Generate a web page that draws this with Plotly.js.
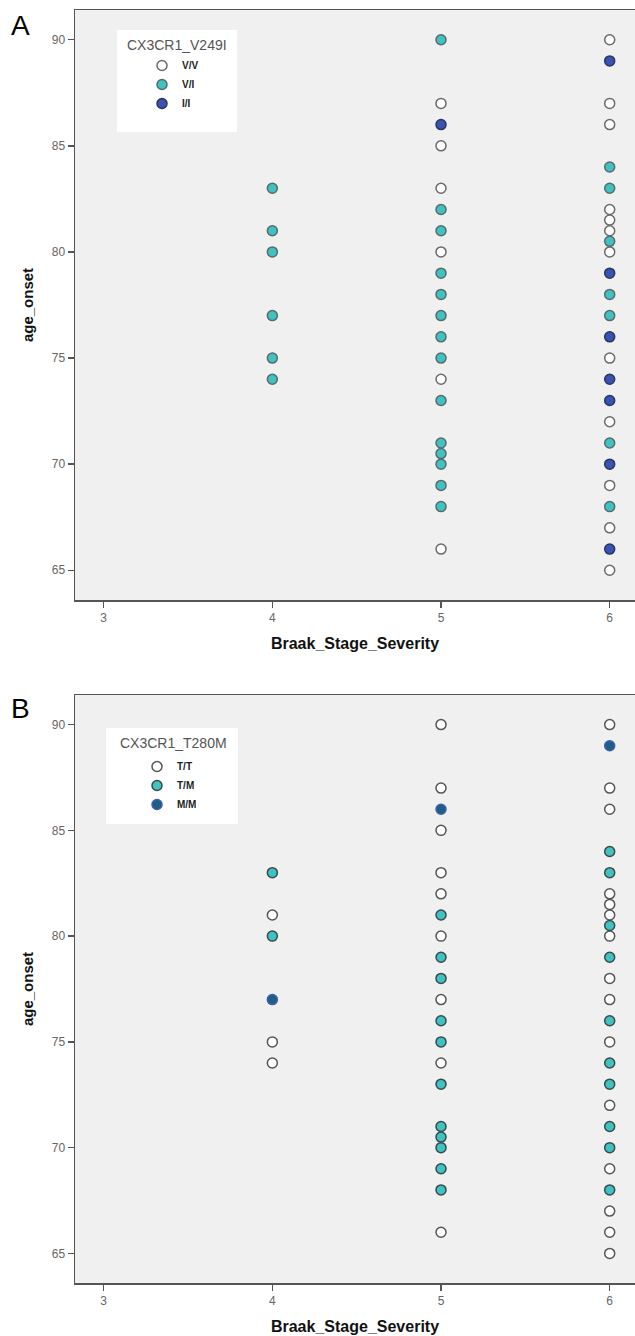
<!DOCTYPE html>
<html>
<head>
<meta charset="utf-8">
<script src="https://cdn.plot.ly/plotly-3.0.1.min.js"></script>
<style>html,body{margin:0;padding:0;background:#fff;}#chart{width:635px;height:1336px;}</style>
</head>
<body>
<div id="chart"></div>
<script>
// ---------- DATA ----------
// Panel A: CX3CR1_V249I
const aVV_stage = [5,5,5,5,5,5, 6,6,6,6,6,6,6,6,6,6,6,6];
const aVV_age   = [87,85,83,80,74,66, 90,87,86,82,81.5,81,80,75,72,69,67,65];
const aVI_stage = [4,4,4,4,4,4, 5,5,5,5,5,5,5,5,5,5,5,5,5,5, 6,6,6,6,6,6,6];
const aVI_age   = [83,81,80,77,75,74, 90,82,81,79,78,77,76,75,73,71,70.5,70,69,68, 84,83,80.5,78,77,71,68];
const aII_stage = [5, 6,6,6,6,6,6,6];
const aII_age   = [86, 89,79,76,74,73,70,66];

// Panel B: CX3CR1_T280M
const bTT_stage = [4,4,4, 5,5,5,5,5,5,5,5,5, 6,6,6,6,6,6,6,6,6,6,6,6,6,6,6];
const bTT_age   = [81,75,74, 90,87,85,83,82,80,77,74,66, 90,87,86,82,81.5,81,80,78,77,75,72,69,67,66,65];
const bTM_stage = [4,4, 5,5,5,5,5,5,5,5,5,5,5, 6,6,6,6,6,6,6,6,6,6];
const bTM_age   = [83,80, 81,79,78,76,75,73,71,70.5,70,69,68, 84,83,80.5,79,76,74,73,71,70,68];
const bMM_stage = [4,5,6];
const bMM_age   = [77,86,89];

const xTicks = [3,4,5,6];
const yTicks = [65,70,75,80,85,90];
const labelsA = ['V/V','V/I','I/I'];
const labelsB = ['T/T','T/M','M/M'];
const legendTitleA = 'CX3CR1_V249I';
const legendTitleB = 'CX3CR1_T280M';

// ---------- STYLE ----------
const W = 635, H = 1336;
const M = {l:75, r:0, t:10, b:53};
const plotW = W - M.l - M.r, plotH = H - M.t - M.b;
const py = p => (H - M.b - p) / plotH;   // pixel y -> paper y
const px = p => (p - M.l) / plotW;       // pixel x -> paper x

const mk = (fill, line) => ({size: 10, color: fill, line: {color: line, width: 1.5}});

const traces = [
  {x: aVV_stage, y: aVV_age, name: labelsA[0], marker: mk('#ffffff', '#6a6a6a')},
  {x: aVI_stage, y: aVI_age, name: labelsA[1], marker: mk('#3fc2c2', '#5a6a6a')},
  {x: aII_stage, y: aII_age, name: labelsA[2], marker: mk('#3a52b0', '#2a3560')},
  {x: bTT_stage, y: bTT_age, name: labelsB[0], xaxis: 'x2', yaxis: 'y2', legend: 'legend2', marker: mk('#ffffff', '#555555')},
  {x: bTM_stage, y: bTM_age, name: labelsB[1], xaxis: 'x2', yaxis: 'y2', legend: 'legend2', marker: mk('#3fc2c2', '#3a4a4a')},
  {x: bMM_stage, y: bMM_age, name: labelsB[2], xaxis: 'x2', yaxis: 'y2', legend: 'legend2', marker: mk('#1e5f82', '#3f5bb8')}
].map(t => Object.assign({type: 'scatter', mode: 'markers', hoverinfo: 'x+y'}, t));

const FAM = 'Liberation Sans, Arial, sans-serif';
const tickFont = {family: FAM, size: 12, color: '#666'};
const xTitleFont = {family: FAM, size: 16, color: '#111', weight: 'bold'};

function xAxis(anchor) {
  return {
    range: [2.83, 6.15], tickvals: xTicks, ticktext: xTicks.map(String),
    ticks: 'outside', ticklen: 6, tickwidth: 1.5, tickcolor: '#555',
    showline: true, mirror: true, linecolor: '#555', linewidth: 1.5,
    showgrid: false, zeroline: false, tickfont: tickFont, anchor: anchor,
    title: {text: 'Braak_Stage_Severity', font: xTitleFont, standoff: 14}
  };
}
function yAxis(domain, anchor) {
  return {
    domain: domain, range: [63.6, 91.4], tickvals: yTicks, ticktext: yTicks.map(String),
    ticks: 'outside', ticklen: 6, tickwidth: 1.5, tickcolor: '#555',
    showline: true, mirror: true, linecolor: '#555', linewidth: 1.5,
    showgrid: false, zeroline: false, tickfont: tickFont, anchor: anchor,
    title: {text: 'age_onset', font: {family: FAM, size: 15, color: '#111', weight: 'bold'}, standoff: 14}
  };
}

const legTitleFont = {family: FAM, size: 14, color: '#555', weight: 'normal'};
const legFont = {family: FAM, size: 10, color: '#222', weight: 'bold'};

const layout = {
  width: W, height: H, margin: M,
  paper_bgcolor: '#ffffff', plot_bgcolor: '#f0f0f0',
  font: {family: FAM},
  xaxis: xAxis('y'),
  yaxis: yAxis([py(600), 1], 'x'),
  xaxis2: xAxis('y2'),
  yaxis2: yAxis([0, py(695)], 'x2'),
  showlegend: true,
  legend: {
    xref: 'paper', yref: 'paper', x: px(142), y: py(51), xanchor: 'left', yanchor: 'top',
    bgcolor: 'rgba(0,0,0,0)', borderwidth: 0, font: legFont, itemwidth: 30,
    itemclick: false, itemdoubleclick: false
  },
  legend2: {
    xref: 'paper', yref: 'paper', x: px(137), y: py(752), xanchor: 'left', yanchor: 'top',
    bgcolor: 'rgba(0,0,0,0)', borderwidth: 0, font: legFont, itemwidth: 30,
    itemclick: false, itemdoubleclick: false
  },
  shapes: [
    {type: 'rect', xref: 'paper', yref: 'paper', x0: px(117), x1: px(237), y0: py(132), y1: py(30), fillcolor: '#ffffff', line: {width: 0}, layer: 'below'},
    {type: 'rect', xref: 'paper', yref: 'paper', x0: px(106), x1: px(238), y0: py(824), y1: py(728), fillcolor: '#ffffff', line: {width: 0}, layer: 'below'}
  ],
  annotations: [
    {text: 'A', xref: 'paper', yref: 'paper', x: px(20), y: py(26), xanchor: 'center', yanchor: 'middle', showarrow: false, font: {family: FAM, size: 28, color: '#000'}},
    {text: 'B', xref: 'paper', yref: 'paper', x: px(20), y: py(708), xanchor: 'center', yanchor: 'middle', showarrow: false, font: {family: FAM, size: 28, color: '#000'}},
    {text: legendTitleA, xref: 'paper', yref: 'paper', x: px(177), y: py(45), xanchor: 'center', yanchor: 'middle', showarrow: false, font: legTitleFont},
    {text: legendTitleB, xref: 'paper', yref: 'paper', x: px(173), y: py(743), xanchor: 'center', yanchor: 'middle', showarrow: false, font: legTitleFont}
  ]
};

Plotly.newPlot('chart', traces, layout, {staticPlot: true, displayModeBar: false});
</script>
</body>
</html>
